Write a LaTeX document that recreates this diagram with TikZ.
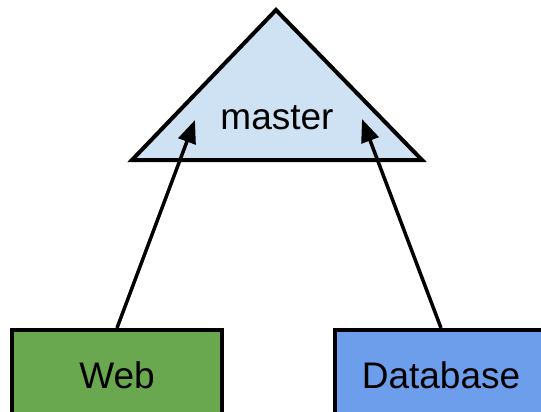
\documentclass[tikz,border=0pt]{standalone}
\usepackage{fontspec}
\setmainfont{Liberation Sans}
\usepackage{tikz}
\usetikzlibrary{shapes.geometric,arrows.meta,positioning}

\tikzset{
  box/.style={draw,line width=4pt,minimum height=90pt,inner sep=0pt,font=\fontsize{37}{42}\selectfont},
  link/.style={line width=3.5pt,-{Triangle[length=23pt,width=18pt]}}
}
\definecolor{masterblue}{HTML}{CFE2F3}
\definecolor{webgreen}{HTML}{6AA84F}
\definecolor{dbblue}{HTML}{6D9EEB}

\begin{document}
\begin{tikzpicture}[x=1pt,y=-1pt]
\clip (0,0) rectangle (541,412);
\fill[white] (0,0) rectangle (541,412);
% master triangle
\coordinate (apex) at (276,10);
\coordinate (bl) at (132,160);
\coordinate (br) at (422,160);
\draw[fill=masterblue,line width=4pt,line join=miter] (apex) -- (br) -- (bl) -- cycle;
\node[font=\fontsize{37}{42}\selectfont] (master) at (277,118) {master};
\coordinate (inweb) at (195,120);
\coordinate (indb) at (362,119);

% boxes
\node[box,fill=webgreen,minimum width=210pt] (web) at (117,375) {Web};
\node[box,fill=dbblue,minimum width=212pt] (db) at (441,375) {Database};

% arrows
\draw[link] (web.north) -- (inweb);
\draw[link] (db.north) -- (indb);
\end{tikzpicture}
\end{document}
